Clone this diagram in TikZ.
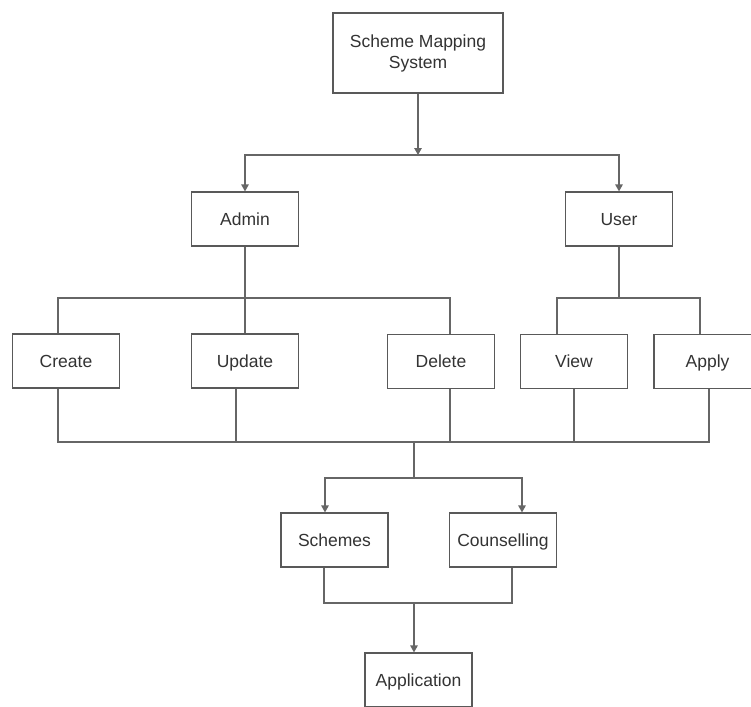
\documentclass[tikz,border=0pt]{standalone}
\usepackage{fontspec}
\setmainfont{Liberation Sans}
\usetikzlibrary{arrows.meta}

\tikzset{
  box/.style={draw=black!65, line width=1.2pt, minimum width=107pt, minimum height=54pt,
    inner sep=0pt, align=center, font=\fontsize{17.5}{21}\selectfont, text=black!80,
    text height=14pt, text depth=1.5pt},
  link/.style={draw=black!60, line width=1.3pt},
  arr/.style={link, -{Triangle[length=7pt,width=7.5pt]}}
}

\begin{document}
\begin{tikzpicture}[x=1pt, y=-1pt]
      \clip (0,0) rectangle (751,706);
      \fill[white] (0,0) rectangle (751,706);

      % boxes
      \node[box, minimum width=170pt, minimum height=80pt, text height=, text depth=] (top) at (418,53) {Scheme Mapping\\System};
      \node[box] (admin) at (245,219) {Admin};
      \node[box] (user) at (619,219) {User};
      \node[box] (create) at (66,361) {Create};
      \node[box] (update) at (245,361) {Update};
      \node[box] (delete) at (441,361.5) {Delete};
      \node[box] (view) at (574,361.5) {View};
      \node[box] (apply) at (707.5,361.5) {Apply};
      \node[box] (schemes) at (334.5,540) {Schemes};
      \node[box] (counselling) at (503,540) {Counselling};
      \node[box] (application) at (418.5,680) {Application};

      % junctions
      \coordinate (s1) at (418,155);
      \coordinate (a1) at (245,298);
      \coordinate (u1) at (619,298);
      \coordinate (b1) at (414,442);
      \coordinate (c1) at (414,478);
      \coordinate (d1) at (414,603);

      % top split
      \draw[arr] (top) -- (s1);
      \draw[arr] (s1) -| (admin);
      \draw[arr] (s1) -| (user);

      % admin tasks
      \draw[link] (admin) -- (update);
      \draw[link] ([xshift=-8pt]create.north) |- (a1) -| ([xshift=9pt]delete.north);

      % user tasks
      \draw[link] (user) -- (u1);
      \draw[link] ([xshift=-17pt]view.north) |- (u1) -| ([xshift=-7.5pt]apply.north);

      % gather
      \draw[link] ([xshift=-8pt]create.south) |- ([xshift=1.5pt]apply.south |- b1) -- ([xshift=1.5pt]apply.south);
      \foreach \n/\dx in {update/-9, delete/9, view/0}
        \draw[link] ([xshift=\dx pt]\n.south) -- ([xshift=\dx pt]\n.south |- b1);

      % second split
      \draw[link] (b1) -- (c1);
      \draw[arr] (c1) -| ([xshift=-9.5pt]schemes.north);
      \draw[arr] (c1) -| ([xshift=19pt]counselling.north);

      % application
      \draw[link] ([xshift=-10.5pt]schemes.south) |- ([xshift=9pt]counselling.south |- d1) -- ([xshift=9pt]counselling.south);
      \draw[arr] (d1) -- (d1 |- application.north);
    \end{tikzpicture}
\end{document}
